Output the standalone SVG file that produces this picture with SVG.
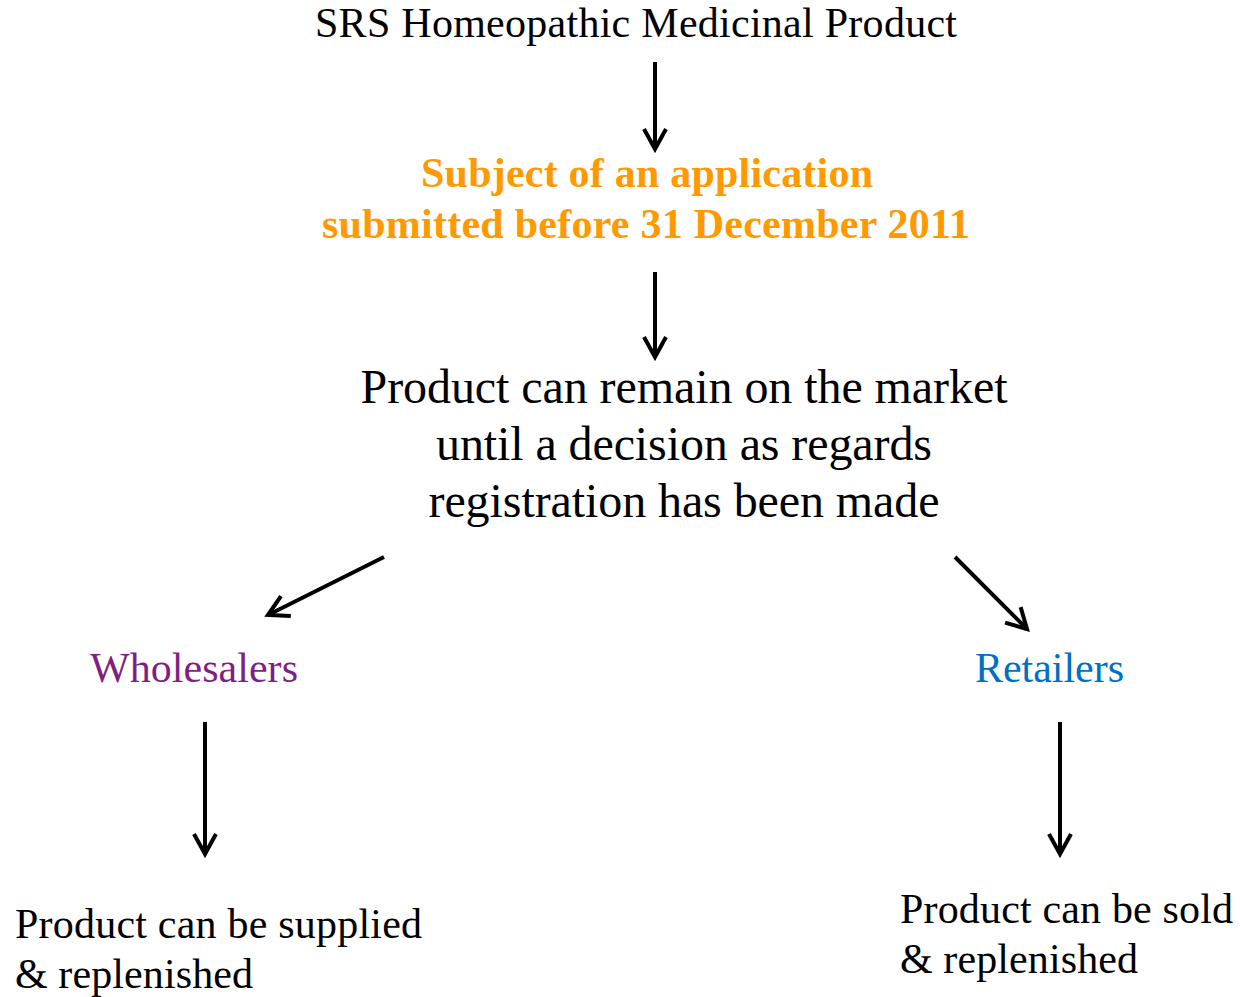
<svg xmlns="http://www.w3.org/2000/svg" width="1240" height="997" viewBox="0 0 1240 997">
<style>
text{font-family:"Liberation Serif","Times New Roman",serif;fill:#000}
.t{font-size:42px}
.m{font-size:48px}
.o{font-size:42px;font-weight:bold;fill:#FF9900}
.w{font-size:42px;fill:#7F1F84}
.r{font-size:42px;fill:#0070C0}
.c{stroke:#000;stroke-width:4;fill:none}
</style>
<defs>
<marker id="ah" markerUnits="userSpaceOnUse" markerWidth="40" markerHeight="40" viewBox="-25 -20 30 40" refX="0" refY="0" orient="auto" overflow="visible">
<path d="M-20,-11 L0,0 L-20,11" fill="none" stroke="#000" stroke-width="4" stroke-linejoin="miter"/>
</marker>
</defs>
<rect width="1240" height="997" fill="#fff"/>
<g id="n-title"><text class="t" x="636" y="37" text-anchor="middle" textLength="642">SRS Homeopathic Medicinal Product</text></g>
<g id="n-subject"><text class="o" x="647" y="187" text-anchor="middle" textLength="452">Subject of an application</text><text class="o" x="646" y="238" text-anchor="middle" textLength="648">submitted before 31 December 2011</text></g>
<g id="n-remain"><text class="m" x="684" y="403" text-anchor="middle" textLength="647">Product can remain on the market</text><text class="m" x="684" y="460" text-anchor="middle" textLength="496">until a decision as regards</text><text class="m" x="684" y="517" text-anchor="middle" textLength="511">registration has been made</text></g>
<g id="n-wholesalers"><text class="w" x="90" y="682" textLength="208">Wholesalers</text></g>
<g id="n-retailers"><text class="r" x="975" y="682" textLength="149">Retailers</text></g>
<g id="n-supplied"><text class="t" x="15" y="938" textLength="407">Product can be supplied</text><text class="t" x="15" y="988" textLength="238">&amp; replenished</text></g>
<g id="n-sold"><text class="t" x="900" y="923" textLength="333">Product can be sold</text><text class="t" x="900" y="973" textLength="238">&amp; replenished</text></g>
<g id="connectors">
<line class="c" x1="655" y1="62" x2="655" y2="149" marker-end="url(#ah)"/>
<line class="c" x1="655" y1="272" x2="655" y2="357" marker-end="url(#ah)"/>
<line class="c" x1="384" y1="557" x2="268" y2="615" marker-end="url(#ah)"/>
<line class="c" x1="955" y1="557" x2="1027" y2="629" marker-end="url(#ah)"/>
<line class="c" x1="205" y1="722" x2="205" y2="854" marker-end="url(#ah)"/>
<line class="c" x1="1060" y1="722" x2="1060" y2="854" marker-end="url(#ah)"/>
</g>
</svg>
